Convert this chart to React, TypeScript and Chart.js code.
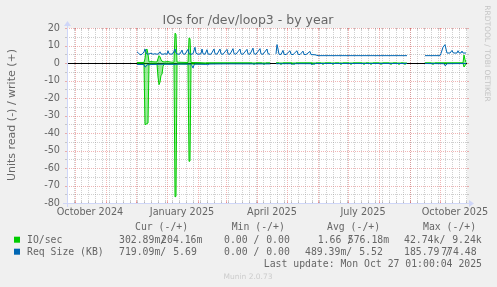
import { useEffect, useRef } from 'react';
import { Chart, registerables } from 'chart.js';

Chart.register(...registerables);

// ---------- data (x = days since 1 Oct 2024) ----------
const TITLE = 'IOs for /dev/loop3 - by year';
const Y_TITLE = 'Units read (-) / write (+)';
const X_MIN = -8;
const X_MAX = 392;
const Y_MIN = -80;
const Y_MAX = 20;
const xLabelDays = [15, 107, 197, 288, 380];
const xLabels = ['October 2024', 'January 2025', 'April 2025', 'July 2025', 'October 2025'];
const monthStartDays = [0, 31, 61, 92, 123, 151, 182, 212, 243, 273, 304, 335, 365];
const firstWeekDay = -1;

type P = [number, number | null];

const sizeWrite: P[] = [
  [62, 6.3], [63, 6.0], [65, 4.7], [67, 5.0], [69, 6.3], [70, 8.0], [71, 6.2], [72, 5.0], [74, 5.2], [76, 5.6],
  [78, 5.0], [80, 5.3], [82, 5.0], [84, 5.4], [85, 6.4], [86, 5.2], [88, 5.0], [90, 5.3], [92, 5.0], [93, 7.0],
  [94, 5.3], [96, 5.0], [98, 5.4], [100, 8.0], [101, 5.6], [103, 5.0], [105, 5.2], [107, 7.4], [108, 5.2], [110, 5.0],
  [113, 7.8], [114, 5.3], [116, 5.0], [118, 5.3], [120, 9.0], [121, 5.6], [123, 5.0], [126, 5.3], [127, 8.0], [128, 5.3],
  [130, 5.0], [132, 7.6], [133, 5.1], [136, 5.0], [139, 8.0], [140, 5.3], [142, 5.0], [145, 8.0], [146, 5.2], [148, 5.0],
  [152, 7.8], [153, 5.2], [155, 5.0], [158, 8.2], [159, 5.3], [161, 5.0], [165, 8.0], [166, 5.2], [168, 5.0], [172, 7.8],
  [173, 5.2], [175, 5.0], [178, 8.5], [179, 5.3], [181, 5.0], [185, 8.2], [186, 5.2], [188, 5.0], [192, 8.0], [193, 5.3],
  [195, 5.0], [196, null], [201, 5.2], [202, 10.5], [203, 8.0], [204, 5.0], [206, 4.9], [208, 7.2], [209, 5.0], [211, 4.8],
  [215, 7.0], [216, 5.0], [218, 4.8], [222, 7.0], [223, 5.0], [225, 4.8], [228, 6.8], [229, 4.9], [231, 4.8], [235, 6.6],
  [236, 4.8], [240, 4.7], [243, 4.2], [332, 4.2], [333, null], [350, 4.2], [365, 4.2], [366, 5.5], [368, 9.0], [370, 10.5],
  [371, 8.0], [372, 5.7], [375, 5.7], [377, 7.2], [378, 6.0], [379, 5.7], [382, 5.7], [383, 7.0], [384, 5.8], [386, 5.7],
  [387, 6.8], [388, 5.7], [391, 5.7],
];

const sizeRead: P[] = [
  [62, -0.8], [69, -0.9], [70, -2.3], [71, -2.0], [72, -1.0], [80, -0.8], [90, -0.7], [100, -0.8], [105, -0.6], [116, -0.7],
  [117, -1.5], [118, -2.9], [119, -1.2], [120, -0.6], [132, -0.8], [133, -1.2], [134, -0.6], [150, -0.5], [195, -0.5], [196, null],
  [201, -0.4], [216, -0.4], [217, -1.0], [218, -0.4], [236, -0.4], [237, -1.1], [238, -0.4], [243, -0.3], [332, -0.3], [333, null],
  [350, -0.3], [369, -0.4], [370, -1.5], [371, -1.2], [372, -0.4], [391, -0.3],
];

const ioRead: P[] = [
  [62, -0.6], [69, -0.6], [70, -35.2], [71, -35.0], [72, -34.6], [73, -34.3], [74, -0.6], [82, -0.6], [83, -8.0], [84, -12.4],
  [85, -11.0], [86, -7.0], [87, -6.5], [88, -2.0], [89, -0.6], [99, -0.6], [100, -76.5], [101, -76.2], [102, -0.6], [113, -0.6],
  [114, -56.2], [115, -56.0], [116, -0.6], [130, -0.5], [131, 0], [177, 0], [178, -0.6], [180, -0.6], [181, 0], [187, 0],
  [188, -0.6], [190, -0.6], [191, 0], [195, 0], [196, null], [201, 0], [204, 0], [205, -0.6], [207, -0.6], [208, 0],
  [217, 0], [218, -0.6], [220, -0.6], [221, 0], [237, 0], [238, -0.6], [240, -0.6], [241, 0], [246, 0], [247, -0.6],
  [249, -0.6], [250, 0], [256, 0], [257, -0.6], [259, -0.6], [260, 0], [264, 0], [265, -0.6], [267, -0.6], [268, 0],
  [274, 0], [275, -0.6], [277, -0.6], [278, 0], [287, 0], [288, -0.6], [290, -0.6], [291, 0], [294, 0], [295, -0.6],
  [297, -0.6], [298, 0], [304, 0], [305, -0.6], [307, -0.6], [308, 0], [314, 0], [315, -0.6], [317, -0.6], [318, 0],
  [322, 0], [323, -0.6], [325, -0.6], [326, 0], [328, 0], [329, -0.6], [331, -0.6], [332, 0], [333, null], [350, 0],
  [356, 0], [357, -0.6], [359, -0.6], [360, 0], [388, 0], [389, -2.3], [390, -1.5], [391, -0.6],
];

const ioWrite: P[] = [
  [62, 0.3], [69, 0.3], [70, 2.5], [71, 7.5], [72, 8.0], [73, 5.0], [74, 0.6], [76, 0.8], [80, 0.6], [82, 0.6],
  [83, 2.5], [84, 4.2], [85, 3.5], [86, 2.0], [87, 1.0], [89, 0.6], [93, 0.8], [96, 0.5], [99, 0.4], [100, 17.0],
  [101, 16.5], [102, 0.5], [106, 0.4], [113, 0.3], [114, 14.3], [115, 14.0], [116, 0.3], [125, 0.2], [131, 0], [195, 0],
  [196, null], [201, 0], [332, 0], [333, null], [350, 0], [388, 0], [389, 4.6], [390, 2.0], [391, 0.4],
];

// legend values [read, write]
const legendHeaders = ['Cur (-/+)', 'Min (-/+)', 'Avg (-/+)', 'Max (-/+)'];
const seriesNames = ['IO/sec', 'Req Size (KB)'];
const ioCur = ['302.89m', '204.16m'];
const ioMin = ['0.00', '0.00'];
const ioAvg = ['1.66', '576.18m'];
const ioMax = ['42.74k', '9.24k'];
const sizeCur = ['719.09m', '5.69'];
const sizeMin = ['0.00', '0.00'];
const sizeAvg = ['489.39m', '5.52'];
const sizeMax = ['185.79', '774.48'];
const LAST_UPDATE = 'Last update: Mon Oct 27 01:00:04 2025';
const WATERMARK = 'RRDTOOL / TOBI OETIKER';
const MUNIN = 'Munin 2.0.73';

// ---------- styles ----------
const GREEN = '#00CC00';
const BLUE = '#0066B3';
const BACK = '#F0F0F0';
const FONT_COL = '#666666';
const AXIS_COL = '#CFD6F8';
const GRID = 'rgba(143,143,143,0.42)';
const MGRID = 'rgba(222,79,79,0.42)';
const SANS = '"DejaVu Sans", sans-serif';
const MONO = '"DejaVu Sans Mono", monospace';

const toPts = (a: P[]) => a.map(([x, y]) => ({ x, y }));
const slashed = (v: string) => (/[a-zA-Z]$/.test(v) ? v + '/' : v + ' /');

const munin = {
  id: 'munin',
  beforeDraw(chart: any) {
    const { ctx, chartArea: a } = chart;
    ctx.save();
    ctx.fillStyle = BACK;
    ctx.fillRect(0, 0, chart.width, chart.height);
    ctx.fillStyle = '#FFFFFF';
    ctx.fillRect(a.left, a.top, a.right - a.left, a.bottom - a.top);
    ctx.restore();
  },
  beforeDatasetsDraw(chart: any) {
    const { ctx, chartArea: a, scales } = chart;
    const x = scales.x, y = scales.y;
    ctx.save();
    ctx.lineWidth = 1;
    const seg = (x1: number, y1: number, x2: number, y2: number) => {
      ctx.beginPath(); ctx.moveTo(x1, y1); ctx.lineTo(x2, y2); ctx.stroke();
    };
    const vline = (d: number, col: string) => {
      const px = Math.round(x.getPixelForValue(d)) + 0.5;
      if (px < a.left || px > a.right) return;
      ctx.strokeStyle = col;
      ctx.setLineDash([1, 1]);
      seg(px, a.top, px, a.bottom);
      ctx.setLineDash([]);
      seg(px, a.bottom - 2, px, a.bottom);
      seg(px, a.top, px, a.top + 2);
    };
    // horizontal grid
    for (let v = Y_MIN; v <= Y_MAX; v += 5) {
      const py = Math.round(y.getPixelForValue(v)) + 0.5;
      ctx.strokeStyle = v % 10 === 0 ? MGRID : GRID;
      ctx.setLineDash([1, 1]);
      seg(a.left, py, a.right, py);
      ctx.setLineDash([]);
      seg(a.left - 2, py, a.left, py);
      seg(a.right, py, a.right + 2, py);
    }
    for (let d = firstWeekDay; d <= X_MAX; d += 7) vline(d, GRID);
    monthStartDays.forEach((d) => vline(d, MGRID));
    // zero line
    const zy = Math.round(y.getPixelForValue(0)) + 0.5;
    ctx.strokeStyle = '#000000';
    seg(a.left, zy, a.right, zy);
    ctx.restore();
  },
  afterDatasetsDraw(chart: any) {
    const { ctx, chartArea: a } = chart;
    ctx.save();
    ctx.strokeStyle = AXIS_COL;
    ctx.fillStyle = AXIS_COL;
    ctx.lineWidth = 1;
    const bx = a.bottom + 0.5, lx = a.left + 0.5;
    ctx.beginPath(); ctx.moveTo(a.left - 4, bx); ctx.lineTo(a.right + 4, bx); ctx.stroke();
    ctx.beginPath(); ctx.moveTo(lx, a.bottom + 4); ctx.lineTo(lx, a.top - 4); ctx.stroke();
    ctx.beginPath();
    ctx.moveTo(a.right + 2, a.bottom - 3); ctx.lineTo(a.right + 2, a.bottom + 4); ctx.lineTo(a.right + 7, a.bottom + 0.5);
    ctx.closePath(); ctx.fill();
    ctx.beginPath();
    ctx.moveTo(a.left - 3, a.top - 2); ctx.lineTo(a.left + 4, a.top - 2); ctx.lineTo(a.left + 0.5, a.top - 7);
    ctx.closePath(); ctx.fill();
    ctx.restore();
  },
  afterDraw(chart: any) {
    const { ctx } = chart;
    ctx.save();
    ctx.fillStyle = FONT_COL;
    ctx.textBaseline = 'alphabetic';
    // title
    ctx.font = `12.5px ${SANS}`;
    ctx.textAlign = 'center';
    ctx.fillText(TITLE, 248, 23.5);
    // y-axis title
    ctx.save();
    ctx.translate(15, 115);
    ctx.rotate(-Math.PI / 2);
    ctx.font = `11px ${SANS}`;
    ctx.textAlign = 'center';
    ctx.fillText(Y_TITLE, 0, 0);
    ctx.restore();
    // watermark
    ctx.save();
    ctx.translate(484.5, 53.5);
    ctx.rotate(Math.PI / 2);
    ctx.font = `7.5px ${SANS}`;
    ctx.textAlign = 'center';
    ctx.fillStyle = '#C4C4C4';
    ctx.fillText(WATERMARK, 0, 0);
    ctx.restore();
    // legend
    ctx.font = `9.8px ${MONO}`;
    ctx.textAlign = 'left';
    const headX = [135, 231.7, 327, 423];
    legendHeaders.forEach((h, i) => ctx.fillText(h, headX[i], 230));
    const rows = [
      { name: seriesNames[0], color: GREEN, y: 242.7, vals: [ioCur, ioMin, ioAvg, ioMax],
        pos: [[119, 161.1], [224, 266.2], [317.7, 347.8], [404, 452.2]] },
      { name: seriesNames[1], color: BLUE, y: 254.7, vals: [sizeCur, sizeMin, sizeAvg, sizeMax],
        pos: [[119, 173.2], [224, 266.2], [305, 359.2], [404, 441.2]] },
    ];
    rows.forEach((r) => {
      ctx.fillStyle = r.color;
      ctx.fillRect(14, r.y - 6, 6, 6);
      ctx.fillStyle = FONT_COL;
      ctx.fillText(r.name, 27, r.y);
      r.vals.forEach((v, i) => {
        ctx.fillText(slashed(v[0]), r.pos[i][0], r.y);
        ctx.fillText(v[1], r.pos[i][1], r.y);
      });
    });
    ctx.textAlign = 'right';
    ctx.fillText(LAST_UPDATE, 482, 266.5);
    ctx.textAlign = 'center';
    ctx.font = `7.5px ${SANS}`;
    ctx.fillStyle = '#CCCCCC';
    ctx.fillText(MUNIN, 248, 279);
    ctx.restore();
  },
};

export default function App() {
  const ref = useRef<HTMLCanvasElement>(null);
  useEffect(() => {
    if (!ref.current) return;
    const chart = new Chart(ref.current, {
      type: 'line',
      data: {
        datasets: [
          { label: 'Req Size write', data: toPts(sizeWrite), borderColor: BLUE, order: 0 },
          { label: 'Req Size read', data: toPts(sizeRead), borderColor: BLUE, order: 1 },
          { label: 'IO/sec write', data: toPts(ioWrite), borderColor: GREEN, fill: 'origin',
            backgroundColor: 'rgba(0,204,0,0.4)', order: 2 },
          { label: 'IO/sec read', data: toPts(ioRead), borderColor: GREEN, fill: 'origin',
            backgroundColor: 'rgba(0,204,0,0.4)', order: 3 },
        ] as any,
      },
      options: {
        animation: false,
        responsive: false,
        devicePixelRatio: 1,
        spanGaps: false,
        elements: { point: { radius: 0 }, line: { borderWidth: 1, tension: 0 } },
        layout: { padding: { top: 28, right: 30, left: 0, bottom: 0 } },
        plugins: { legend: { display: false }, tooltip: { enabled: false }, title: { display: false } },
        scales: {
          x: {
            type: 'linear', min: X_MIN, max: X_MAX,
            afterBuildTicks: (s: any) => { s.ticks = xLabelDays.map((v) => ({ value: v })); },
            afterFit: (s: any) => { s.height = 84; },
            ticks: {
              autoSkip: false, maxRotation: 0, color: FONT_COL, padding: 4,
              font: { family: SANS, size: 9.7 },
              callback: (_v: any, i: number) => xLabels[i],
            },
            grid: { display: false, drawTicks: false },
            border: { display: false },
          },
          y: {
            type: 'linear', min: Y_MIN, max: Y_MAX,
            afterFit: (s: any) => { s.width = 67; },
            ticks: { stepSize: 10, color: FONT_COL, padding: 7, font: { family: SANS, size: 9.7 } },
            grid: { display: false, drawTicks: false },
            border: { display: false },
          },
        },
      } as any,
      plugins: [munin],
    });
    return () => chart.destroy();
  }, []);
  return (
    <div style={{ position: 'fixed', left: 0, top: 0, width: 497, height: 287, background: BACK }}>
      <canvas ref={ref} width={497} height={287} style={{ display: 'block' }} />
    </div>
  );
}
